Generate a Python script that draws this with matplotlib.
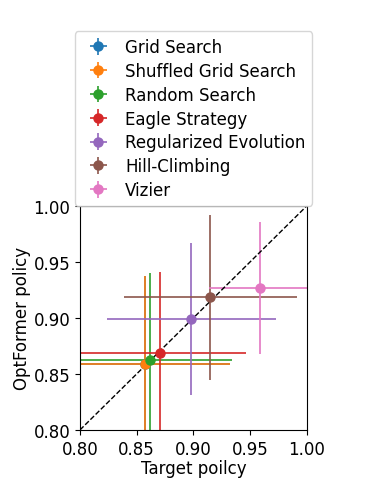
import matplotlib

matplotlib.use("Agg")
import matplotlib.pyplot as plt

# Per-algorithm mean policy scores and their spreads
algorithms = [
    "Grid Search",
    "Shuffled Grid Search",
    "Random Search",
    "Eagle Strategy",
    "Regularized Evolution",
    "Hill-Climbing",
    "Vizier",
]
target_mean = [0.857, 0.857, 0.862, 0.871, 0.898, 0.915, 0.959]
target_err = [0.075, 0.075, 0.072, 0.075, 0.0745, 0.076, 0.045]
optformer_mean = [0.859, 0.859, 0.8625, 0.869, 0.899, 0.9185, 0.927]
optformer_err = [0.078, 0.078, 0.078, 0.072, 0.068, 0.0735, 0.059]

fig = plt.figure(figsize=(3.77, 4.81), dpi=100)
ax = fig.add_axes([0.212, 0.104, 0.602, 0.466])

for name, x, xe, y, ye in zip(algorithms, target_mean, target_err, optformer_mean, optformer_err):
    ax.errorbar(x, y, xerr=xe, yerr=ye, fmt="o", ms=6.5, elinewidth=1.2, label=name)

ax.plot([0.8, 1.0], [0.8, 1.0], "k--", lw=1)
ax.set_xlim(0.8, 1.0)
ax.set_ylim(0.8, 1.0)
ax.set_xticks([0.80, 0.85, 0.90, 0.95, 1.00])
ax.set_yticks([0.80, 0.85, 0.90, 0.95, 1.00])
ax.tick_params(labelsize=12)
ax.set_xlabel("Target poilcy", fontsize=12, labelpad=1)
ax.set_ylabel("OptFormer policy", fontsize=12, labelpad=2)
ax.legend(loc="lower center", bbox_to_anchor=(0.5, 1.0), fontsize=12,
          labelspacing=0.35, borderaxespad=0.0, handletextpad=0.6)

fig.savefig("out.png", dpi=100)
